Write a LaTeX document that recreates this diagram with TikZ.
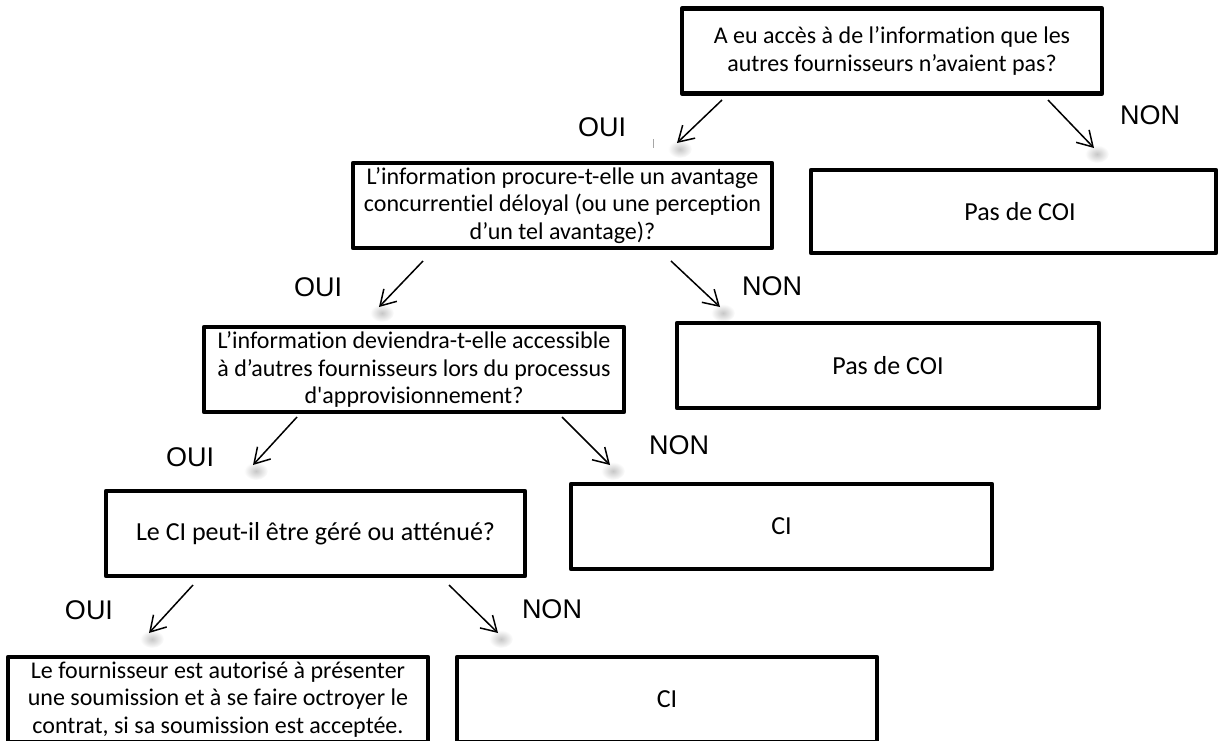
\documentclass[tikz,border=0pt]{standalone}
\usepackage{fontspec}
\newfontfamily\boxfont{Carlito}[Ligatures={NoCommon,NoContextual}]
\newfontfamily\labfont{Liberation Sans}
\usetikzlibrary{arrows.meta}
\begin{document}
\begin{tikzpicture}[x=1pt,y=-1pt,
  box/.style={draw=black, line width=4.6pt, line join=round, inner sep=0pt, align=center,
    font=\boxfont\fontsize{24}{27.5}\selectfont, minimum width=420pt, minimum height=85pt},
  bigbox/.style={box, font=\boxfont\fontsize{26}{30}\selectfont},
  lab/.style={font=\labfont\fontsize{27}{32}\selectfont, inner sep=0pt},
  arr/.style={line width=1.5pt, -{Straight Barb[length=15pt,width=18pt]}},
  tipshadow/.style={inner color=black!22, outer color=white},
]
\useasboundingbox (0,0) rectangle (1219,740);

% arrow end points
\coordinate (s1) at (722,100);  \coordinate (t1) at (677,143);
\coordinate (s2) at (1048,100); \coordinate (t2) at (1094,148);
\coordinate (s3) at (423,261);  \coordinate (t3) at (379,307);
\coordinate (s4) at (671,261);  \coordinate (t4) at (720,307);
\coordinate (s5) at (297,417);  \coordinate (t5) at (253,465);
\coordinate (s6) at (562,417);  \coordinate (t6) at (610,465);
\coordinate (s7) at (193,585);  \coordinate (t7) at (149,633);
\coordinate (s8) at (449,585);  \coordinate (t8) at (498,633);

% soft shadows under the arrow tips
\foreach \t in {t1,t2,t3,t4,t5,t6,t7,t8}
  \shade[tipshadow] ([shift={(3,6)}]\t) ellipse (12pt and 9pt);

% boxes
\node[box] (q1) at (892,51) {A eu accès à de l’information que les\\autres fournisseurs n’avaient pas?};
\node[box, minimum width=405pt, minimum height=83pt] (n1) at (1013.5,211.5) {};
\node[font=\boxfont\fontsize{26}{30}\selectfont, inner sep=0pt] (n1t) at (1020,212) {Pas de COI};
\node[box, minimum width=419pt] (q2) at (562.5,205.5) {L’information procure-t-elle un avantage\\concurrentiel déloyal (ou une perception\\d’un tel avantage)?};
\node[bigbox, minimum width=422pt] (n2) at (888,365.5) {Pas de COI};
\node[box] (q3) at (414,369.5) {L’information deviendra-t-elle accessible\\à d’autres fournisseurs lors du processus\\d'approvisionnement?};
\node[bigbox, minimum width=421pt] (c1) at (781.5,526.5) {CI};
\node[bigbox, minimum width=419pt] (q4) at (315.5,533.5) {Le CI peut-il être géré ou atténué?};
\node[box] (r1) at (218,699.5) {Le fournisseur est autorisé à présenter\\une soumission et à se faire octroyer le\\contrat, si sa soumission est acceptée.};
\node[bigbox] (c2) at (667,699.5) {CI};

% arrows
\draw[arr] (s1) -- (t1);
\draw[arr] (s2) -- (t2);
\draw[arr] (s3) -- (t3);
\draw[arr] (s4) -- (t4);
\draw[arr] (s5) -- (t5);
\draw[arr] (s6) -- (t6);
\draw[arr] (s7) -- (t7);
\draw[arr] (s8) -- (t8);

% labels
\node[lab] (l1) at (602,127) {OUI};
\node[lab] (l2) at (1150,115) {NON};
\node[lab] (l3) at (318,287) {OUI};
\node[lab] (l4) at (772,286) {NON};
\node[lab] (l5) at (190,457) {OUI};
\node[lab] (l6) at (679,445) {NON};
\node[lab] (l7) at (89,610) {OUI};
\node[lab] (l8) at (552,609) {NON};

% small grey tick
\draw[black!35, line width=0.8pt] (653,139) -- (653,148);
\end{tikzpicture}
\end{document}
